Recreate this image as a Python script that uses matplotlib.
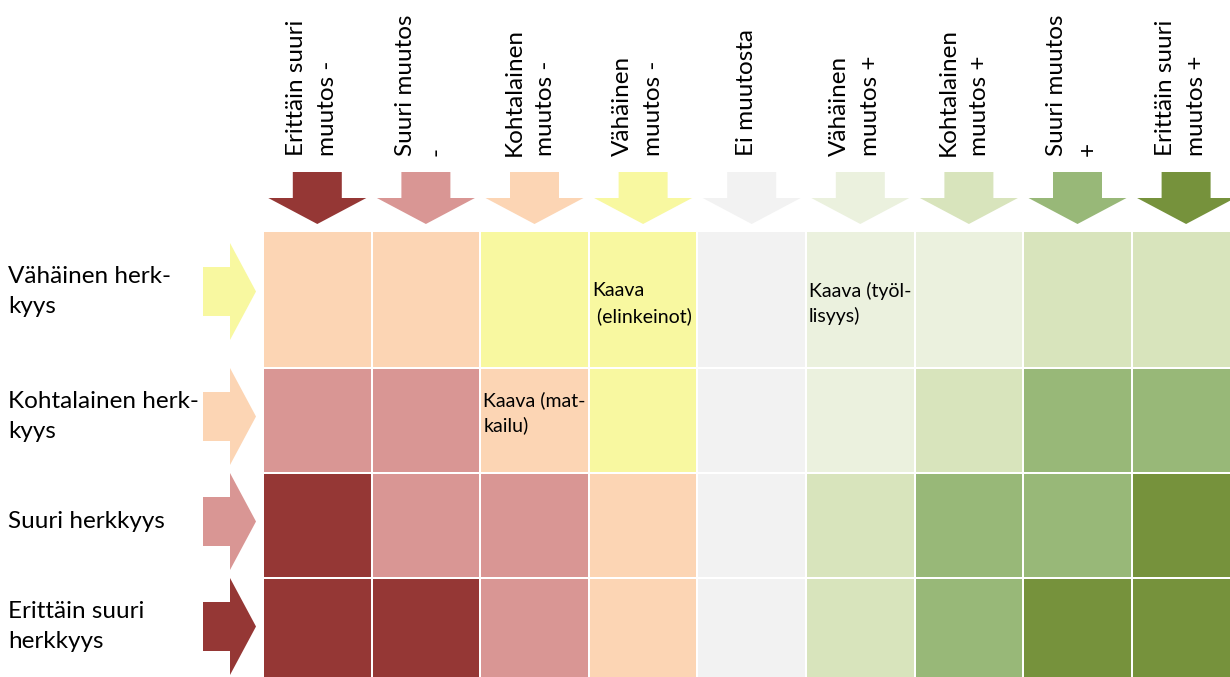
import matplotlib
matplotlib.use("Agg")
import matplotlib.pyplot as plt
from matplotlib.patches import Polygon, Rectangle

plt.rcParams["font.family"] = ["Lato", "DejaVu Sans"]

# colour scale: from very large negative change to very large positive change
palette = ["#953735", "#D99694", "#FCD5B4", "#F8F8A0", "#F2F2F2",
           "#EBF1DE", "#D8E4BC", "#98B878", "#76923C"]

col_labels = ["Erittäin suuri\nmuutos -", "Suuri muutos\n-", "Kohtalainen\nmuutos -",
              "Vähäinen\nmuutos -", "Ei muutosta", "Vähäinen\nmuutos +",
              "Kohtalainen\nmuutos +", "Suuri muutos\n+", "Erittäin suuri\nmuutos +"]
row_labels = ["Vähäinen herk-\nkyys", "Kohtalainen herk-\nkyys",
              "Suuri herkkyys", "Erittäin suuri\nherkkyys"]

col_arrow_level = [0, 1, 2, 3, 4, 5, 6, 7, 8]
row_arrow_level = [3, 2, 1, 0]

# palette index for each cell (rows = sensitivity, cols = change)
levels = [
    [2, 2, 3, 3, 4, 5, 5, 6, 6],
    [1, 1, 2, 3, 4, 5, 6, 7, 7],
    [0, 1, 1, 2, 4, 6, 7, 7, 8],
    [0, 0, 1, 2, 4, 6, 7, 8, 8],
]

notes = [(0, 3, "Kaava\n (elinkeinot)"),
         (0, 5, "Kaava (työl-\nlisyys)"),
         (1, 2, "Kaava (mat-\nkailu)")]

W, H = 1230, 677
fig = plt.figure(figsize=(W / 100, H / 100), dpi=100)
ax = fig.add_axes([0, 0, 1, 1])
ax.set_xlim(0, W)
ax.set_ylim(H, 0)
ax.axis("off")

col_edges = [263 + 108.6 * i for i in range(len(col_labels) + 1)]
row_edges = [231, 368, 473, 578, 683]
gap = 1.0

for r, row in enumerate(levels):
    for c, lv in enumerate(row):
        x0, x1 = col_edges[c] + gap, col_edges[c + 1] - gap
        y0, y1 = row_edges[r] + gap, row_edges[r + 1] - gap
        ax.add_patch(Rectangle((x0, y0), x1 - x0, y1 - y0,
                               facecolor=palette[lv], edgecolor="none"))

# top arrows and column labels
for c, lab in enumerate(col_labels):
    cx = (col_edges[c] + col_edges[c + 1]) / 2
    pts = [(cx - 24.5, 172), (cx + 24.5, 172), (cx + 24.5, 198), (cx + 49, 198),
           (cx, 224), (cx - 49, 198), (cx - 24.5, 198)]
    ax.add_patch(Polygon(pts, closed=True, facecolor=palette[col_arrow_level[c]],
                         edgecolor="none"))
    ax.text(cx - 5, 156, lab, rotation=90, ha="center", va="bottom",
            multialignment="left", fontsize=17.5, linespacing=1.6, color="black")

# left arrows and row labels
for r, lab in enumerate(row_labels):
    cy = (row_edges[r] + row_edges[r + 1]) / 2 - (8 if r == 0 else 4)
    pts = [(203, cy - 24.5), (230, cy - 24.5), (230, cy - 48.5), (256, cy),
           (230, cy + 48.5), (230, cy + 24.5), (203, cy + 24.5)]
    ax.add_patch(Polygon(pts, closed=True, facecolor=palette[row_arrow_level[r]],
                         edgecolor="none"))
    ax.text(8, cy, lab, ha="left", va="center", fontsize=17.5,
            linespacing=1.5, color="black")

for r, c, txt in notes:
    x = col_edges[c] + 3
    y = (row_edges[r] + row_edges[r + 1]) / 2 + (4 if r == 0 else -8)
    ax.text(x, y, txt, ha="left", va="center", fontsize=14,
            linespacing=1.5, color="black")

fig.savefig("out.png", dpi=100)
